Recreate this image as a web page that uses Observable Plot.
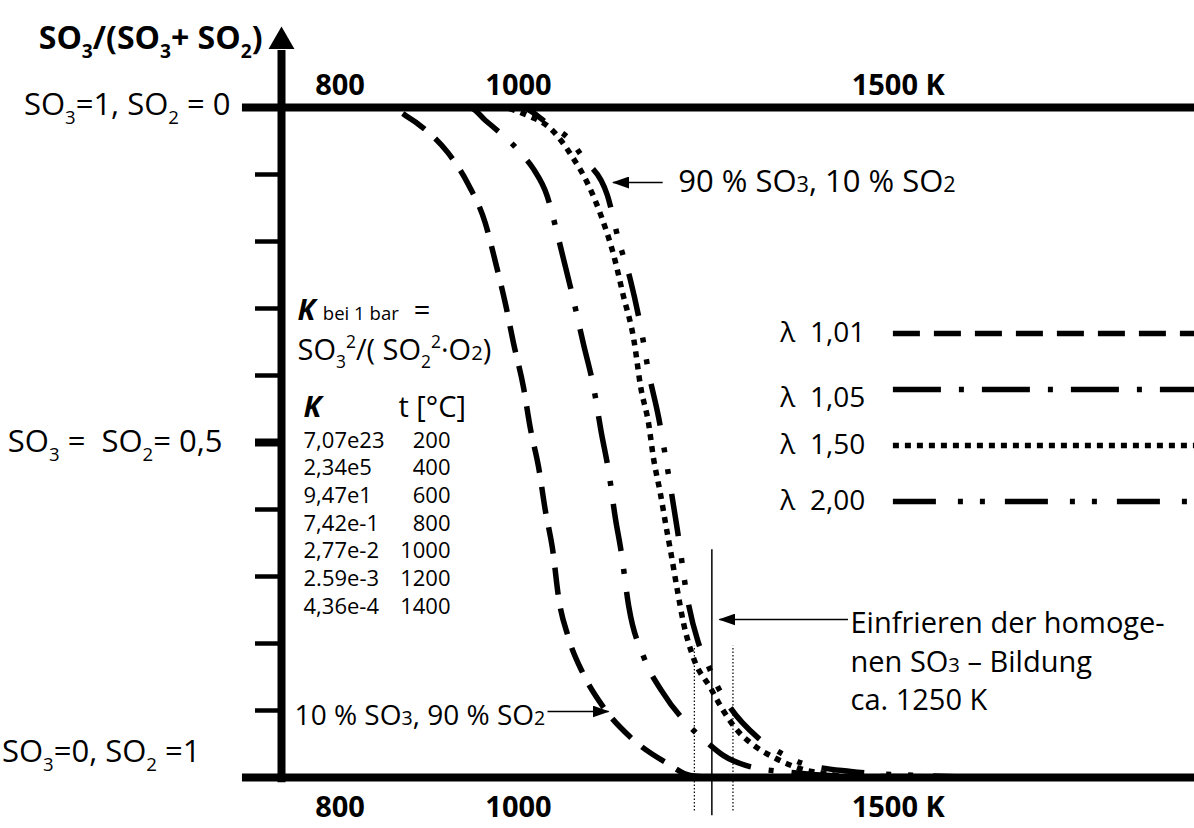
<!DOCTYPE html>
<html><head><meta charset="utf-8">
<script src="https://cdn.jsdelivr.net/npm/d3@7"></script>
<script src="https://cdn.jsdelivr.net/npm/@observablehq/plot@0.6"></script>
<style>
html,body{margin:0;padding:0;background:#fff;overflow:hidden;}
svg text{white-space:pre;}
</style></head><body><div id="chart"></div>
<script>
// ---------- DATA ----------
// Temperature in K, y = SO3/(SO3+SO2)
const xTicks = [800, 1000, 1500];
const xTickLabels = ["800", "1000", "1500 K"];
const yMinorTicks = [0.1, 0.2, 0.3, 0.4, 0.6, 0.7, 0.8, 0.9];
const yLabelValues = [1, 0.5, 0];
const yLabels = ["SO_3=1, SO_2 = 0", "SO_3 =  SO_2= 0,5", "SO_3=0, SO_2 =1"];

const seriesLabels = ["λ  1,01", "λ  1,05", "λ  1,50", "λ  2,00"];

const lam101K    = [739, 854, 871, 891, 918, 942, 961, 973, 985, 994, 1006, 1014, 1024, 1032, 1041, 1048, 1060, 1078, 1103, 1137, 1184, 1214, 1253, 1960];
const lam101Frac = [1, 1, 0.988, 0.969, 0.933, 0.884, 0.828, 0.769, 0.705, 0.649, 0.582, 0.522, 0.463, 0.399, 0.339, 0.269, 0.209, 0.155, 0.105, 0.060, 0.021, 0.003, 0, 0];

const lam105K    = [739, 943, 961, 1002, 1018, 1034, 1045, 1053, 1065, 1078, 1091, 1100, 1110, 1118, 1125, 1135, 1154, 1178, 1214, 1236, 1257, 1287, 1348, 1446, 1960];
const lam105Frac = [1, 1, 0.981, 0.933, 0.908, 0.869, 0.819, 0.779, 0.719, 0.649, 0.582, 0.518, 0.454, 0.387, 0.339, 0.254, 0.179, 0.127, 0.075, 0.052, 0.033, 0.018, 0.0075, 0.0015, 0];

const lam150K    = [739, 979, 1011, 1038, 1066, 1083, 1100, 1116, 1128, 1141, 1150, 1160, 1166, 1175, 1184, 1188, 1197, 1205, 1218, 1240, 1257, 1276, 1298, 1325, 1362, 1403, 1462, 1960];
const lam150Frac = [1, 1, 0.988, 0.969, 0.924, 0.888, 0.839, 0.779, 0.719, 0.655, 0.582, 0.528, 0.478, 0.424, 0.364, 0.339, 0.279, 0.230, 0.178, 0.134, 0.100, 0.070, 0.048, 0.030, 0.013, 0.0045, 0, 0];

const lam200K    = [739, 1002, 1038, 1060, 1078, 1108, 1122, 1137, 1150, 1160, 1173, 1183, 1197, 1210, 1224, 1236, 1249, 1263, 1303, 1334, 1362, 1432, 1530, 1652, 1960];
const lam200Frac = [1, 1, 0.973, 0.954, 0.925, 0.869, 0.802, 0.742, 0.672, 0.605, 0.536, 0.469, 0.369, 0.267, 0.202, 0.170, 0.137, 0.110, 0.060, 0.037, 0.022, 0.009, 0.003, 0, 0];

const kValues = ["7,07e23", "2,34e5", "9,47e1", "7,42e-1", "2,77e-2", "2.59e-3", "4,36e-4"];
const tempC   = [200, 400, 600, 800, 1000, 1200, 1400];

const freezeK = 1242;          // "ca. 1250 K"
const freezeBandK = [1219, 1270];

// ---------- LAYOUT / STYLE ----------
const FONT = "'Open Sans', 'Noto Sans', sans-serif";
const xDomain = [739.2, 1960.2];
const seriesStyle = [
  {dash: "27,14"},
  {dash: "48,18,5,18"},
  {dash: "6,6"},
  {dash: "43,22,5,17,5,20"}
];
const seriesData = [
  [lam101K, lam101Frac], [lam105K, lam105Frac], [lam150K, lam150Frac], [lam200K, lam200Frac]
].map(([ks, fs]) => ks.map((k, i) => ({k, f: fs[i]})));

const legendTop = 0.6627, legendStep = 0.0836;
const legendTextK = 1334, legendLineK1 = 1493;

const marks = [];

// curves
seriesData.forEach((d, i) => {
  marks.push(Plot.line(d, {x: "k", y: "f", curve: "monotone-x", stroke: "black", strokeWidth: 5.5,
    strokeDasharray: seriesStyle[i].dash, strokeLinecap: "butt"}));
});

// legend
seriesLabels.forEach((lab, i) => {
  const y = legendTop - i * legendStep;
  marks.push(Plot.ruleY([y], {x1: legendLineK1, x2: xDomain[1], stroke: "black", strokeWidth: 5.5,
    strokeDasharray: seriesStyle[i].dash}));
  marks.push(Plot.text([lab], {x: legendTextK, y: y - (i === 1 ? 0.012 : 0), text: d => d, textAnchor: "start",
    fontSize: 28, fontFamily: FONT}));
});

// frame lines (top, bottom) and vertical axis with arrow
marks.push(Plot.ruleY([0, 1], {x1: 700, x2: xDomain[1], stroke: "black", strokeWidth: 8}));
marks.push(Plot.ruleX([xDomain[0]], {y1: -0.008, y2: 1.085, stroke: "black", strokeWidth: 8}));
marks.push(Plot.dot([xDomain[0]], {x: d => d, y: () => 1.0985, symbol: "triangle", r: 9.6, fill: "black", stroke: "none"}));

// y ticks
marks.push(Plot.axisY({ticks: yMinorTicks, tickSize: 26, tickFormat: () => "", strokeWidth: 4.5, stroke: "black"}));
marks.push(Plot.axisY({ticks: [0.5], tickSize: 26, tickFormat: () => "", strokeWidth: 8, stroke: "black"}));
const yLabelPad = [51, 59, 81], yLabelDy = [-2, 0, -25];
yLabelValues.forEach((v, i) => {
  marks.push(Plot.axisY({ticks: [v], tickSize: 0, tickPadding: yLabelPad[i], dy: yLabelDy[i],
    tickFormat: () => yLabels[i], fontSize: 31, fontFamily: FONT}));
});

// x axes (top and bottom)
marks.push(Plot.axisX({anchor: "top", ticks: xTicks, tickSize: 0, tickPadding: 13,
  tickFormat: d => xTickLabels[xTicks.indexOf(d)], fontSize: 29, fontWeight: "bold", fontFamily: FONT}));
marks.push(Plot.axisX({anchor: "bottom", ticks: xTicks, tickSize: 0, tickPadding: 19,
  tickFormat: d => xTickLabels[xTicks.indexOf(d)], fontSize: 29, fontWeight: "bold", fontFamily: FONT}));

// title (y axis label)
marks.push(Plot.text(["SO_3/(SO_3+ SO_2)"], {x: 720, y: 1.103, text: d => d, textAnchor: "end",
  fontSize: 32, fontWeight: "bold", fontFamily: FONT}));

// freeze line
marks.push(Plot.ruleX([freezeK], {y1: -0.057, y2: 0.34, stroke: "black", strokeWidth: 1.5}));
marks.push(Plot.ruleX(freezeBandK, {y1: -0.05, y2: 0.196, stroke: "black", strokeWidth: 1.2, strokeDasharray: "1.5,2"}));

// annotation arrows
const arrows = [
  {x1: 1178, x2: 1115, y1: 0.888, y2: 0.888},
  {x1: 1034.7, x2: 1109.5, y1: 0.0985, y2: 0.0985},
  {x1: 1428, x2: 1252, y1: 0.2358, y2: 0.2358}
];
marks.push(Plot.link(arrows, {x1: "x1", x2: "x2", y1: "y1", y2: "y2", stroke: "black", strokeWidth: 1.6, markerEnd: "arrow"}));

// annotation texts
const notes = [
  {x: 1198, y: 0.888, t: "90 % SO~3, 10 % SO~2", a: "start", s: 31},
  {x: 1032, y: 0.092, t: "10 % SO~3, 90 % SO~2", a: "end", s: 28},
  {x: 1431.6, y: 0.2299, t: "Einfrieren der homoge-", a: "start", s: 29},
  {x: 1431.6, y: 0.1716, t: "nen SO~3 – Bildung", a: "start", s: 29},
  {x: 1431.6, y: 0.1149, t: "ca. 1250 K", a: "start", s: 29},
  {x: 755.6, y: 0.697, t: "*K* {bei 1 bar}  =", a: "start", s: 29},
  {x: 755.6, y: 0.637, t: "SO_3^2/( SO_2^2·O~2)", a: "start", s: 29},
  {x: 761.8, y: 0.552, t: "*K*", a: "start", s: 29},
  {x: 863, y: 0.552, t: "t [°C]", a: "start", s: 29}
];
notes.forEach(n => marks.push(Plot.text([n], {x: "x", y: "y", text: "t", textAnchor: n.a, fontSize: n.s, fontFamily: FONT})));

// K table
const rowTop = 0.503, rowStep = 0.0414;
marks.push(Plot.text(kValues, {x: () => 761.8, y: (d, i) => rowTop - i * rowStep, text: d => d, textAnchor: "start", fontSize: 22, fontFamily: FONT}));
marks.push(Plot.text(tempC, {x: () => 921.2, y: (d, i) => rowTop - i * rowStep, text: d => String(d), textAnchor: "end", fontSize: 22, fontFamily: FONT}));

const svg = Plot.plot({
  width: 1194, height: 828,
  marginLeft: 281, marginRight: 0, marginTop: 107, marginBottom: 51,
  x: {type: "sqrt", domain: xDomain},
  y: {domain: [0, 1]},
  style: {fontFamily: FONT, background: "white", color: "black", overflow: "visible"},
  marks
});
document.getElementById("chart").appendChild(svg);

// ---------- rich text post-processing (sub/superscripts, bold italic K, small text) ----------
const NS = "http://www.w3.org/2000/svg";
function richify(el) {
  const s = el.textContent;
  if (!/[_^~*{}]/.test(s)) return;
  const fs = parseFloat(getComputedStyle(el).fontSize);
  while (el.firstChild) el.removeChild(el.firstChild);
  let bold = false, small = false, pending = 0, buf = "";
  const mk = (txt, o) => {
    const t = document.createElementNS(NS, "tspan");
    t.textContent = txt;
    const shift = o.shift || 0;
    const dy = shift + pending;
    pending = -shift;
    if (dy) t.setAttribute("dy", dy);
    if (o.size) t.setAttribute("font-size", o.size);
    if (o.bold) { t.setAttribute("font-weight", "bold"); t.setAttribute("font-style", "italic"); }
    el.appendChild(t);
  };
  const flush = () => { if (buf) { mk(buf, {bold, size: small ? fs * 0.64 : null}); buf = ""; } };
  for (let i = 0; i < s.length; i++) {
    const c = s[i];
    if (c === "*") { flush(); bold = !bold; }
    else if (c === "{") { flush(); small = true; }
    else if (c === "}") { flush(); small = false; }
    else if (c === "_" || c === "^" || c === "~") {
      flush();
      const shift = c === "_" ? fs * 0.28 : c === "^" ? -fs * 0.42 : 0;
      mk(s[++i], {shift, size: fs * (c === "~" ? 0.7 : 0.6), bold});
    } else buf += c;
  }
  flush();
}
svg.querySelectorAll("text").forEach(richify);

// filled arrowheads
svg.querySelectorAll("marker").forEach(m => {
  m.setAttribute("viewBox", "-16 -6 17 12");
  m.setAttribute("markerUnits", "userSpaceOnUse");
  m.setAttribute("markerWidth", 17);
  m.setAttribute("markerHeight", 12);
  m.setAttribute("refX", 0);
  m.setAttribute("refY", 0);
  m.setAttribute("fill", "black");
  m.setAttribute("stroke", "none");
  while (m.firstChild) m.removeChild(m.firstChild);
  const p = document.createElementNS(NS, "path");
  p.setAttribute("d", "M-16,-6L1,0L-16,6Z");
  m.appendChild(p);
});
</script></body></html>
